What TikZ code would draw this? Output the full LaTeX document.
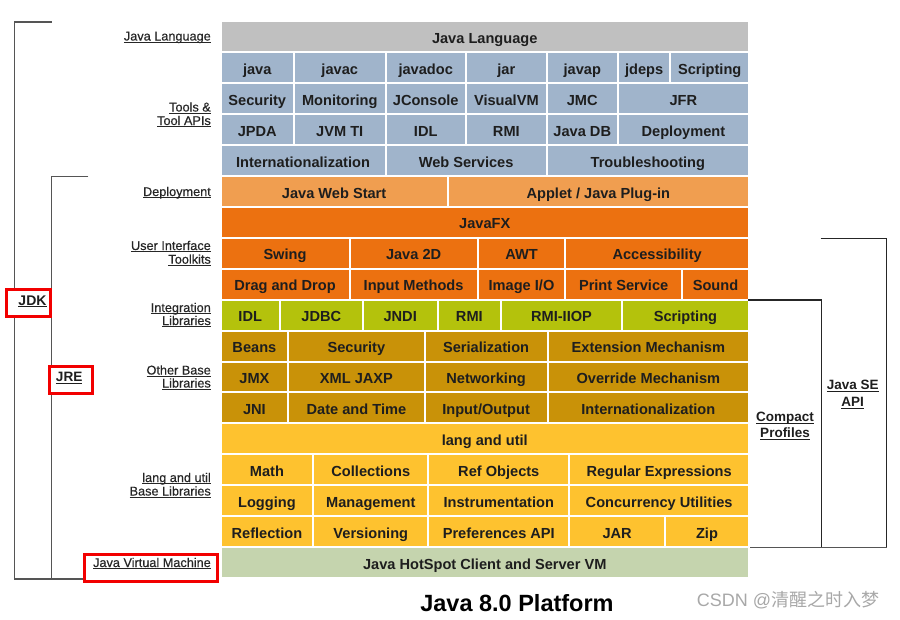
\documentclass[tikz,border=0pt]{standalone}
\usepackage{fontspec}
\setmainfont{Liberation Sans}
\newfontfamily\lblfont[FakeBold=0.4]{Liberation Sans}
\newfontfamily\cjk{Noto Sans CJK SC}
\definecolor{cgray}{HTML}{C0C0C0}
\definecolor{cblue}{HTML}{A0B4CB}
\definecolor{clorange}{HTML}{F09E50}
\definecolor{corange}{HTML}{EC7110}
\definecolor{cgreen}{HTML}{B4C20C}
\definecolor{cgold}{HTML}{C99208}
\definecolor{cyellow}{HTML}{FEC22F}
\definecolor{cpale}{HTML}{C5D4AE}
\definecolor{txt}{HTML}{1E1E1E}
\definecolor{lbl}{HTML}{262626}
\definecolor{brk}{HTML}{555555}
\definecolor{wm}{HTML}{A8A8A8}
\definecolor{redb}{HTML}{F20000}
\newcommand\ulx[1]{\setbox0\hbox{#1}\rlap{\rule[-2.4pt]{\wd0}{1.2pt}}\box0}
\newcommand\cell[6]{%
  \pgfmathsetmacro\cw{#3-#2}%
  \pgfmathsetmacro\cx{(#2+#3)/2}%
  \pgfmathsetmacro\cy{21.3+30.93*#4-15.465}%
  \node[cellbox,fill=#5,minimum width=\cw pt] (#1) at (\cx,\cy) {#6};}
\tikzset{
  cellbox/.style={draw=white,line width=2pt,inner sep=0pt,minimum height=30.93pt,
    text=txt,font=\fontsize{14.6}{16}\selectfont\bfseries,text height=16.2pt,text depth=3pt},
  leftlbl/.style={anchor=base east,inner sep=0pt,text=lbl,font=\fontsize{12.7}{14}\lblfont},
  sidelbl/.style={anchor=base,inner sep=0pt,text=txt,font=\fontsize{13.5}{15}\selectfont\bfseries},
  brline/.style={draw=brk,line width=1.3pt},
  blkline/.style={draw=black!85,line width=1.3pt},
  redbox/.style={draw=redb,line width=3pt,fill=white}
}
\begin{document}
\begin{tikzpicture}[x=1pt,y=-1pt]
\useasboundingbox[fill=white] (0,0) rectangle (900,619);
% grid
\cell{r1}{220.5}{749}{1}{cgray}{Java Language}
\cell{r2a}{220.5}{294}{2}{cblue}{java}
\cell{r2b}{294}{385.5}{2}{cblue}{javac}
\cell{r2c}{385.5}{466}{2}{cblue}{javadoc}
\cell{r2d}{466}{546.7}{2}{cblue}{jar}
\cell{r2e}{546.7}{617.8}{2}{cblue}{javap}
\cell{r2f}{617.8}{670.4}{2}{cblue}{jdeps}
\cell{r2g}{670.4}{749}{2}{cblue}{Scripting}
\cell{r3a}{220.5}{294}{3}{cblue}{Security}
\cell{r3b}{294}{385.5}{3}{cblue}{Monitoring}
\cell{r3c}{385.5}{466}{3}{cblue}{JConsole}
\cell{r3d}{466}{546.7}{3}{cblue}{VisualVM}
\cell{r3e}{546.7}{617.8}{3}{cblue}{JMC}
\cell{r3f}{617.8}{749}{3}{cblue}{JFR}
\cell{r4a}{220.5}{294}{4}{cblue}{JPDA}
\cell{r4b}{294}{385.5}{4}{cblue}{JVM TI}
\cell{r4c}{385.5}{466}{4}{cblue}{IDL}
\cell{r4d}{466}{546.7}{4}{cblue}{RMI}
\cell{r4e}{546.7}{617.8}{4}{cblue}{Java DB}
\cell{r4f}{617.8}{749}{4}{cblue}{Deployment}
\cell{r5a}{220.5}{385.5}{5}{cblue}{Internationalization}
\cell{r5b}{385.5}{546.7}{5}{cblue}{Web Services}
\cell{r5c}{546.7}{749}{5}{cblue}{Troubleshooting}
\cell{r6a}{220.5}{447.7}{6}{clorange}{Java Web Start}
\cell{r6b}{447.7}{749}{6}{clorange}{Applet / Java Plug-in}
\cell{r7}{220.5}{749}{7}{corange}{JavaFX}
\cell{r8a}{220.5}{349.5}{8}{corange}{Swing}
\cell{r8b}{349.5}{477.7}{8}{corange}{Java 2D}
\cell{r8c}{477.7}{565.3}{8}{corange}{AWT}
\cell{r8d}{565.3}{749}{8}{corange}{Accessibility}
\cell{r9a}{220.5}{349.5}{9}{corange}{Drag and Drop}
\cell{r9b}{349.5}{477.7}{9}{corange}{Input Methods}
\cell{r9c}{477.7}{565.3}{9}{corange}{Image I/O}
\cell{r9d}{565.3}{682}{9}{corange}{Print Service}
\cell{r9e}{682}{749}{9}{corange}{Sound}
\cell{r10a}{220.5}{280}{10}{cgreen}{IDL}
\cell{r10b}{280}{362.7}{10}{cgreen}{JDBC}
\cell{r10c}{362.7}{437.7}{10}{cgreen}{JNDI}
\cell{r10d}{437.7}{501}{10}{cgreen}{RMI}
\cell{r10e}{501}{622}{10}{cgreen}{RMI-IIOP}
\cell{r10f}{622}{749}{10}{cgreen}{Scripting}
\cell{r11a}{220.5}{288.3}{11}{cgold}{Beans}
\cell{r11b}{288.3}{424.5}{11}{cgold}{Security}
\cell{r11c}{424.5}{547.7}{11}{cgold}{Serialization}
\cell{r11d}{547.7}{749}{11}{cgold}{Extension Mechanism}
\cell{r12a}{220.5}{288.3}{12}{cgold}{JMX}
\cell{r12b}{288.3}{424.5}{12}{cgold}{XML JAXP}
\cell{r12c}{424.5}{547.7}{12}{cgold}{Networking}
\cell{r12d}{547.7}{749}{12}{cgold}{Override Mechanism}
\cell{r13a}{220.5}{288.3}{13}{cgold}{JNI}
\cell{r13b}{288.3}{424.5}{13}{cgold}{Date and Time}
\cell{r13c}{424.5}{547.7}{13}{cgold}{Input/Output}
\cell{r13d}{547.7}{749}{13}{cgold}{Internationalization}
\cell{r14}{220.5}{749}{14}{cyellow}{lang and util}
\cell{r15a}{220.5}{313.3}{15}{cyellow}{Math}
\cell{r15b}{313.3}{428.3}{15}{cyellow}{Collections}
\cell{r15c}{428.3}{569.3}{15}{cyellow}{Ref Objects}
\cell{r15d}{569.3}{749}{15}{cyellow}{Regular Expressions}
\cell{r16a}{220.5}{313.3}{16}{cyellow}{Logging}
\cell{r16b}{313.3}{428.3}{16}{cyellow}{Management}
\cell{r16c}{428.3}{569.3}{16}{cyellow}{Instrumentation}
\cell{r16d}{569.3}{749}{16}{cyellow}{Concurrency Utilities}
\cell{r17a}{220.5}{313.3}{17}{cyellow}{Reflection}
\cell{r17b}{313.3}{428.3}{17}{cyellow}{Versioning}
\cell{r17c}{428.3}{569.3}{17}{cyellow}{Preferences API}
\cell{r17d}{569.3}{665}{17}{cyellow}{JAR}
\cell{r17e}{665}{749}{17}{cyellow}{Zip}
\cell{r18}{220.5}{749}{18}{cpale}{Java HotSpot Client and Server VM}
% left brackets
\coordinate (jdkT) at (51.7,22);
\coordinate (jdkTL) at (14.3,22);
\coordinate (jdkBL) at (14.3,579);
\coordinate (jdkB) at (84,579);
\coordinate (jreT) at (88.3,176.7);
\coordinate (jreTL) at (51.7,176.7);
\coordinate (jreBL) at (51.7,579);
\draw[brline] (jdkT) -- (jdkTL) -- (jdkBL) -- (jdkB);
\draw[brline] (jreT) -- (jreTL) -- (jreBL);
% right brackets
\coordinate (cpT) at (748,300);
\coordinate (cpTR) at (821.7,300);
\coordinate (cpBR) at (821.7,547.3);
\coordinate (seT) at (820.7,238.3);
\coordinate (seTR) at (886.7,238.3);
\coordinate (seBR) at (886.7,547.3);
\coordinate (botL) at (750,547.3);
\draw[blkline] (cpT) -- (cpTR) -- (cpBR);
\draw[blkline] (seT) -- (seTR) -- (seBR);
\draw[brline] (botL) -- (seBR);
% red boxes
\draw[redbox] (6.7,289) rectangle (50,316);
\draw[redbox] (49.3,366) rectangle (92.7,393.5);
\draw[redbox] (84.3,554) rectangle (217.3,581);
% left labels
\node[leftlbl] (lJL) at (211,40.5) {\ulx{Java Language}};
\node[leftlbl] (lT1) at (211,111.5) {\ulx{Tools \&}};
\node[leftlbl] (lT2) at (211,125) {\ulx{Tool APIs}};
\node[leftlbl] (lDe) at (211,196) {\ulx{Deployment}};
\node[leftlbl] (lU1) at (211,250) {\ulx{User Interface}};
\node[leftlbl] (lU2) at (211,263.7) {\ulx{Toolkits}};
\node[leftlbl] (lI1) at (211,312) {\ulx{Integration}};
\node[leftlbl] (lI2) at (211,325) {\ulx{Libraries}};
\node[leftlbl] (lO1) at (211,374.5) {\ulx{Other Base}};
\node[leftlbl] (lO2) at (211,387.5) {\ulx{Libraries}};
\node[leftlbl] (lL1) at (211,482) {\ulx{lang and util}};
\node[leftlbl] (lL2) at (211,495.5) {\ulx{Base Libraries}};
\node[leftlbl] (lJVM) at (211,567) {\ulx{Java Virtual Machine}};
% JDK / JRE
\node[sidelbl,font=\fontsize{14}{16}\selectfont\bfseries] (jdk) at (32.5,305) {\ulx{JDK}};
\node[sidelbl,font=\fontsize{13.6}{16}\selectfont\bfseries] (jre) at (69.2,381.5) {\ulx{JRE}};
% right labels
\node[sidelbl] (cp1) at (785,421.5) {\ulx{Compact}};
\node[sidelbl] (cp2) at (785,437.5) {\ulx{Profiles}};
\node[sidelbl] (se1) at (852.7,389.8) {\ulx{Java SE}};
\node[sidelbl] (se2) at (852.7,406.5) {\ulx{API}};
% title and watermark
\node[anchor=base,inner sep=0pt,font=\fontsize{23.5}{28}\selectfont\bfseries] (title) at (517,611) {Java 8.0 Platform};
\node[anchor=base,inner sep=0pt,text=wm,font=\fontsize{18}{21}\selectfont] (wmark) at (788,606.5) {CSDN @{\cjk 清醒之时入梦}};
\end{tikzpicture}
\end{document}
